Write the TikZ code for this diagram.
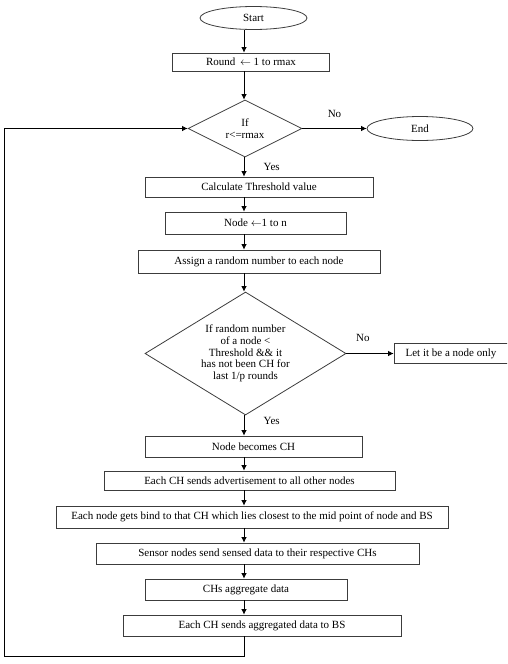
\documentclass[tikz,border=0pt]{standalone}
\usepackage{fontspec}
\setmainfont{Liberation Serif}
\usetikzlibrary{shapes.geometric,arrows.meta,positioning}
\definecolor{edgecolor}{RGB}{60,60,60}

\begin{document}
\begin{tikzpicture}[
	block/.style={
		rectangle,
		draw=edgecolor,
		line width=0.8pt,
		inner sep=0pt,
		minimum height=21pt,
		font=\fontsize{11}{11.7}\selectfont},
	term/.style={
		ellipse,
		draw=edgecolor,
		line width=0.8pt,
		inner sep=0pt,
		minimum width=107pt,
		minimum height=23pt,
		font=\fontsize{11}{11.7}\selectfont},
	decision/.style={
		diamond,
		draw=edgecolor,
		line width=0.8pt,
		inner sep=0pt,
		align=center,
		font=\fontsize{11}{11.7}\selectfont},
	line/.style={
	draw,
	line width=0.8pt,
	-{Latex[length=5.5pt,width=5.5pt]}},
	tag/.style={
	font=\fontsize{11}{11.7}\selectfont}]

    \useasboundingbox (0,0) rectangle (507pt,-664pt);
    \clip (0,0) rectangle (507pt,-664pt);

    % Place nodes
    \node [term] (start) at (253.5pt,-18pt) {Start};
    \node [block, below of=start, node distance=44pt, xshift=-2.5pt, minimum width=157pt, minimum height=18pt] (round) {Round \,$\leftarrow$ 1 to rmax};
    \node [decision, below of=round, node distance=66.5pt, xshift=-6pt, aspect=2, minimum width=114pt, minimum height=57pt] (cond1) {If\\r<=rmax};
    \node [term, right of=cond1, node distance=175pt, minimum width=106pt, minimum height=24pt] (finish) {End};
    \node [block, below of=cond1, node distance=58.5pt, xshift=14pt, minimum width=228pt, minimum height=20pt] (calc) {Calculate Threshold value};
    \node [block, below of=calc, node distance=36pt, xshift=-3.5pt, minimum width=181pt, minimum height=22pt] (nodes) {Node $\leftarrow$1 to n};
    \node [block, below of=nodes, node distance=38.5pt, xshift=3.5pt, minimum width=242pt, minimum height=23pt] (assign) {Assign a random number to each node};
    \node [decision, below of=assign, node distance=92pt, xshift=-13.5pt, aspect=1.63, minimum width=201pt, minimum height=123pt] (cond2) {If random number\\of a node <\\Threshold \&\& it\\has not been CH for\\last 1/p rounds};
    \node [block, right of=cond2, node distance=205.5pt, minimum width=114pt, minimum height=20pt] (only) {Let it be a node only};
    \node [block, below of=cond2, node distance=93pt, xshift=8pt, minimum width=217pt] (head) {Node becomes CH};
    \node [block, below of=head, node distance=34pt, xshift=-4pt, minimum width=291pt, minimum height=19pt] (advert) {Each CH sends advertisement to all other nodes};
    \node [block, below of=advert, node distance=36.5pt, xshift=2.5pt, minimum width=392pt, minimum height=22pt] (bind) {Each node gets bind to that CH which lies closest to the mid point of node and BS};
    \node [block, below of=bind, node distance=36.5pt, xshift=5.5pt, minimum width=323pt] (sense) {Sensor nodes send sensed data to their respective CHs};
    \node [block, below of=sense, node distance=36pt, xshift=-11.5pt, minimum width=202pt] (aggr) {CHs aggregate data};
    \node [block, below of=aggr, node distance=36pt, xshift=16pt, minimum width=278pt] (send) {Each CH sends aggregated data to BS};
    \coordinate (spine) at (244pt,0);
    \coordinate (corner) at (4pt,-656pt);
    % Draw edges
    \path [line] (start.south -| spine) -- (round.north -| spine);
    \path [line] (round.south -| spine) -- (cond1.north -| spine);
    \path [line] (cond1.east) -- node[tag, above=7.5pt] {No} (finish.west);
    \path [line] (cond1.south -| spine) -- node[tag, right=16pt] {Yes} (calc.north -| spine);
    \path [line] (calc.south -| spine) -- (nodes.north -| spine);
    \path [line] (nodes.south -| spine) -- (assign.north -| spine);
    \path [line] (assign.south -| spine) -- (cond2.north -| spine);
    \path [line] (cond2.east) -- node[tag, above=8.5pt, pos=0.35] {No} (only.west);
    \path [line] (cond2.south -| spine) -- node[tag, right=16pt, pos=0.25] {Yes} (head.north -| spine);
    \path [line] (head.south -| spine) -- (advert.north -| spine);
    \path [line] (advert.south -| spine) -- (bind.north -| spine);
    \path [line] (bind.south -| spine) -- (sense.north -| spine);
    \path [line] (sense.south -| spine) -- (aggr.north -| spine);
    \path [line] (aggr.south -| spine) -- (send.north -| spine);
    \path [line] (send.south -| spine) |- (corner) |- (cond1.west);
\end{tikzpicture}
\end{document}
